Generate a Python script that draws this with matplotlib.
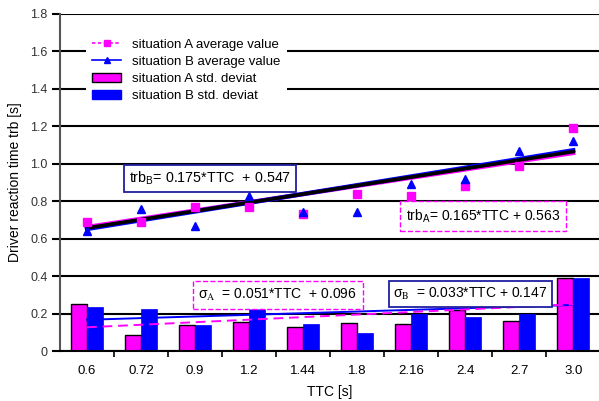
import numpy as np
import matplotlib
matplotlib.use("Agg")
import matplotlib.pyplot as plt
from matplotlib.lines import Line2D
from matplotlib.patches import Patch

plt.rcParams['font.family'] = ['Liberation Sans', 'DejaVu Sans']
plt.rcParams['mathtext.fontset'] = 'stix'
plt.rcParams['mathtext.default'] = 'regular'

ttc = [0.6, 0.72, 0.9, 1.2, 1.44, 1.8, 2.16, 2.4, 2.7, 3.0]
ttc_labels = ["0.6", "0.72", "0.9", "1.2", "1.44", "1.8", "2.16", "2.4", "2.7", "3.0"]

# average reaction times
avg_a = [0.69, 0.69, 0.77, 0.77, 0.73, 0.84, 0.83, 0.88, 0.99, 1.19]
avg_b = [0.64, 0.76, 0.67, 0.83, 0.74, 0.74, 0.89, 0.92, 1.07, 1.12]

# standard deviations
std_a = [0.25, 0.085, 0.14, 0.155, 0.13, 0.15, 0.145, 0.22, 0.16, 0.39]
std_b = [0.235, 0.225, 0.137, 0.23, 0.143, 0.098, 0.20, 0.183, 0.20, 0.39]

# fitted trends (slope, intercept)
trb_a_fit = (0.165, 0.563)
trb_b_fit = (0.175, 0.547)
sig_a_fit = (0.051, 0.096)
sig_b_fit = (0.033, 0.147)

magenta = '#ff00ff'
blue = '#0000ff'

fig = plt.figure(figsize=(5.99, 4.01), dpi=100)
ax = fig.add_axes([60/599, 1 - 351/401, 1 - 60/599 + 0.002, (351 - 14)/401])

x = np.arange(len(ttc))
w = 0.3
ax.bar(x - w/2, std_a, w, color=magenta, edgecolor='black', linewidth=1.0, zorder=2)
ax.bar(x + w/2, std_b, w, color=blue, edgecolor=blue, linewidth=0.5, zorder=2)

def fit_ends(fit):
    k, b = fit
    return [k*ttc[0] + b, k*ttc[-1] + b]

ends = [x[0], x[-1]]
ax.plot(ends, fit_ends(sig_a_fit), color=magenta, ls=(0, (5, 3)), lw=1.4, zorder=4)
ax.plot(ends, fit_ends(sig_b_fit), color=blue, lw=1.4, zorder=3)
ax.plot(ends, fit_ends(trb_a_fit), color=magenta, lw=3.2, zorder=3)
ax.plot(ends, fit_ends(trb_b_fit), color=blue, lw=3.2, zorder=3)
ax.plot(ends, [(p + q)/2 for p, q in zip(fit_ends(trb_a_fit), fit_ends(trb_b_fit))],
        color='black', lw=2.6, zorder=4)

ax.plot(x, avg_a, ls='none', marker='s', ms=6, color=magenta, zorder=5)
ax.plot(x, avg_b, ls='none', marker='^', ms=6, color=blue, zorder=5)

ax.text(2.27, 0.92, r"trb$_{B}$= 0.175*TTC  + 0.547", fontsize=10.3, ha='center', va='center',
        bbox=dict(boxstyle='square,pad=0.35', fc='white', ec='#2020a0', lw=1.3), zorder=6)
ax.text(7.33, 0.72, r"trb$_{A}$= 0.165*TTC + 0.563", fontsize=10, ha='center', va='center',
        bbox=dict(boxstyle='square,pad=0.45', fc='white', ec=magenta, lw=1.0, ls='--'), zorder=6)
ax.text(3.53, 0.30, r"$\sigma_\mathrm{A}$  = 0.051*TTC  + 0.096", fontsize=10, ha='center', va='center',
        bbox=dict(boxstyle='square,pad=0.4', fc='white', ec=magenta, lw=1.0, ls='--'), zorder=6)
ax.text(7.1, 0.305, r"$\sigma_\mathrm{B}$  = 0.033*TTC + 0.147", fontsize=10, ha='center', va='center',
        bbox=dict(boxstyle='square,pad=0.35', fc='white', ec='#2020a0', lw=1.3), zorder=6)

ax.set_xlim(-0.5, len(ttc) - 0.5)
ax.set_ylim(0, 1.8)
ax.set_yticks(np.arange(0, 1.81, 0.2))
ax.set_yticklabels(["0", "0.2", "0.4", "0.6", "0.8", "1.0", "1.2", "1.4", "1.6", "1.8"])
ax.yaxis.grid(True, color='black', lw=1.5, zorder=0)
ax.set_axisbelow(True)
ax.tick_params(axis='y', direction='out', length=6, width=1.5, labelsize=9, labelcolor='#333333', pad=3)

ax.set_xticks(x)
ax.set_xticklabels(ttc_labels)
ax.set_xticks(np.arange(0.5, len(ttc) - 0.5, 1), minor=True)
ax.tick_params(axis='x', which='major', length=0, labelsize=9.5, pad=10)
ax.tick_params(axis='x', which='minor', direction='out', length=4, width=1.2)

for s in ['top', 'right']:
    ax.spines[s].set_visible(False)
ax.spines['left'].set_color('#555555')
ax.spines['left'].set_linewidth(1.5)
ax.spines['bottom'].set_linewidth(1.5)

ax.set_xlabel("TTC [s]", fontsize=10, labelpad=6)
ax.set_ylabel("Driver reaction time trb [s]", fontsize=10, labelpad=6)

handles = [
    Line2D([], [], color=magenta, ls=(0, (2, 1.5)), marker='s', ms=5, lw=1.2),
    Line2D([], [], color=blue, ls='-', marker='^', ms=5, lw=1.2),
    Patch(facecolor=magenta, edgecolor='black'),
    Patch(facecolor=blue, edgecolor=blue),
]
labels = ["situation A average value", "situation B average value",
          "situation A std. deviat", "situation B std. deviat"]
leg = ax.legend(handles, labels, loc='upper left', bbox_to_anchor=(0.035, 0.967),
                fontsize=9.5, frameon=True, fancybox=False, edgecolor='none',
                framealpha=1, handlelength=2.2, labelspacing=0.38, borderpad=0.5)
leg.set_zorder(7)

fig.savefig("out.png", dpi=100)
